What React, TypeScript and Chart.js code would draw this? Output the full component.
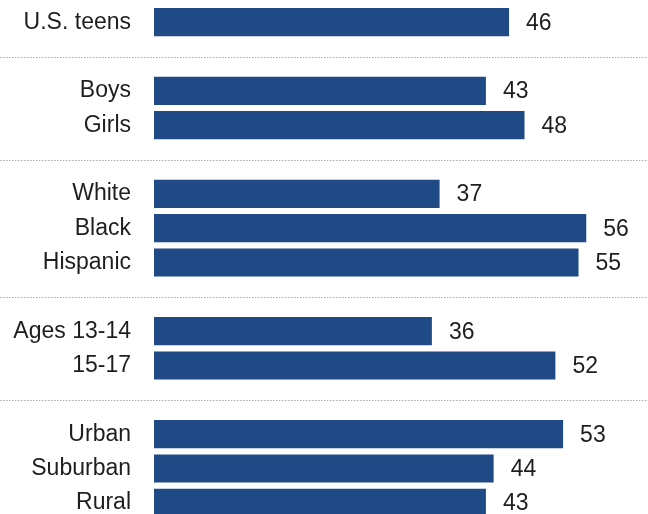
import React, { useEffect, useRef } from "react";
import { Chart, registerables } from "chart.js";

Chart.register(...registerables);

// Category rows ('' marks a separator row between groups)
const categories: string[] = [
  "U.S. teens",
  "",
  "Boys",
  "Girls",
  "",
  "White",
  "Black",
  "Hispanic",
  "",
  "Ages 13-14",
  "15-17",
  "",
  "Urban",
  "Suburban",
  "Rural",
];

const values: (number | null)[] = [
  46,
  null,
  43,
  48,
  null,
  37,
  56,
  55,
  null,
  36,
  52,
  null,
  53,
  44,
  43,
];

const X_MAX = 64;
const BAR_COLOR = "#1f4a86";
const TEXT_COLOR = "#1e1e1e";
const FONT_FAMILY = "'Liberation Sans', Arial, sans-serif";

const separatorPlugin = {
  id: "separators",
  afterDraw(chart: any) {
    const ctx = chart.ctx;
    const y = chart.scales.y;
    ctx.save();
    ctx.strokeStyle = "#a8a8a8";
    ctx.lineWidth = 1;
    ctx.setLineDash([1.5, 1.5]);
    categories.forEach((c, i) => {
      if (c !== "") return;
      const py = Math.round(y.getPixelForValue(i)) + 0.5;
      ctx.beginPath();
      ctx.moveTo(0, py);
      ctx.lineTo(chart.width, py);
      ctx.stroke();
    });
    ctx.restore();
  },
};

const valueLabelPlugin = {
  id: "valueLabels",
  afterDatasetsDraw(chart: any) {
    const ctx = chart.ctx;
    const meta = chart.getDatasetMeta(0);
    ctx.save();
    ctx.font = `23px ${FONT_FAMILY}`;
    ctx.fillStyle = TEXT_COLOR;
    ctx.textAlign = "left";
    ctx.textBaseline = "middle";
    meta.data.forEach((bar: any, i: number) => {
      const v = values[i];
      if (v === null || v === undefined) return;
      ctx.fillText(String(v), bar.x + 17, bar.y + 1);
    });
    ctx.restore();
  },
};

export default function App() {
  const canvasRef = useRef<HTMLCanvasElement | null>(null);

  useEffect(() => {
    if (!canvasRef.current) return;
    const chart = new Chart(canvasRef.current, {
      type: "bar",
      data: {
        labels: categories,
        datasets: [
          {
            data: values as any,
            backgroundColor: BAR_COLOR,
            borderWidth: 0,
            categoryPercentage: 1,
            barPercentage: 0.82,
          },
        ],
      },
      options: {
        indexAxis: "y",
        animation: false,
        responsive: true,
        maintainAspectRatio: false,
        layout: { padding: { top: 5, bottom: 0, left: 0, right: 0 } },
        plugins: {
          legend: { display: false },
          tooltip: { enabled: false },
        },
        scales: {
          x: {
            display: false,
            min: 0,
            max: X_MAX,
          },
          y: {
            grid: { display: false, drawTicks: false, tickLength: 0 },
            border: { display: false },
            ticks: {
              autoSkip: false,
              padding: 23,
              color: TEXT_COLOR,
              font: { family: FONT_FAMILY, size: 23 },
            },
            afterFit(scale: any) {
              scale.width = 154;
              scale.paddingTop = 0;
              scale.paddingBottom = 0;
            },
          },
        },
      },
      plugins: [separatorPlugin, valueLabelPlugin],
    });
    return () => chart.destroy();
  }, []);

  return (
    <div
      style={{
        position: "absolute",
        left: 0,
        top: 0,
        width: 648,
        height: 514,
        overflow: "hidden",
        background: "#ffffff",
      }}
    >
      <div style={{ position: "relative", width: 648, height: 520 }}>
        <canvas ref={canvasRef} />
      </div>
    </div>
  );
}
